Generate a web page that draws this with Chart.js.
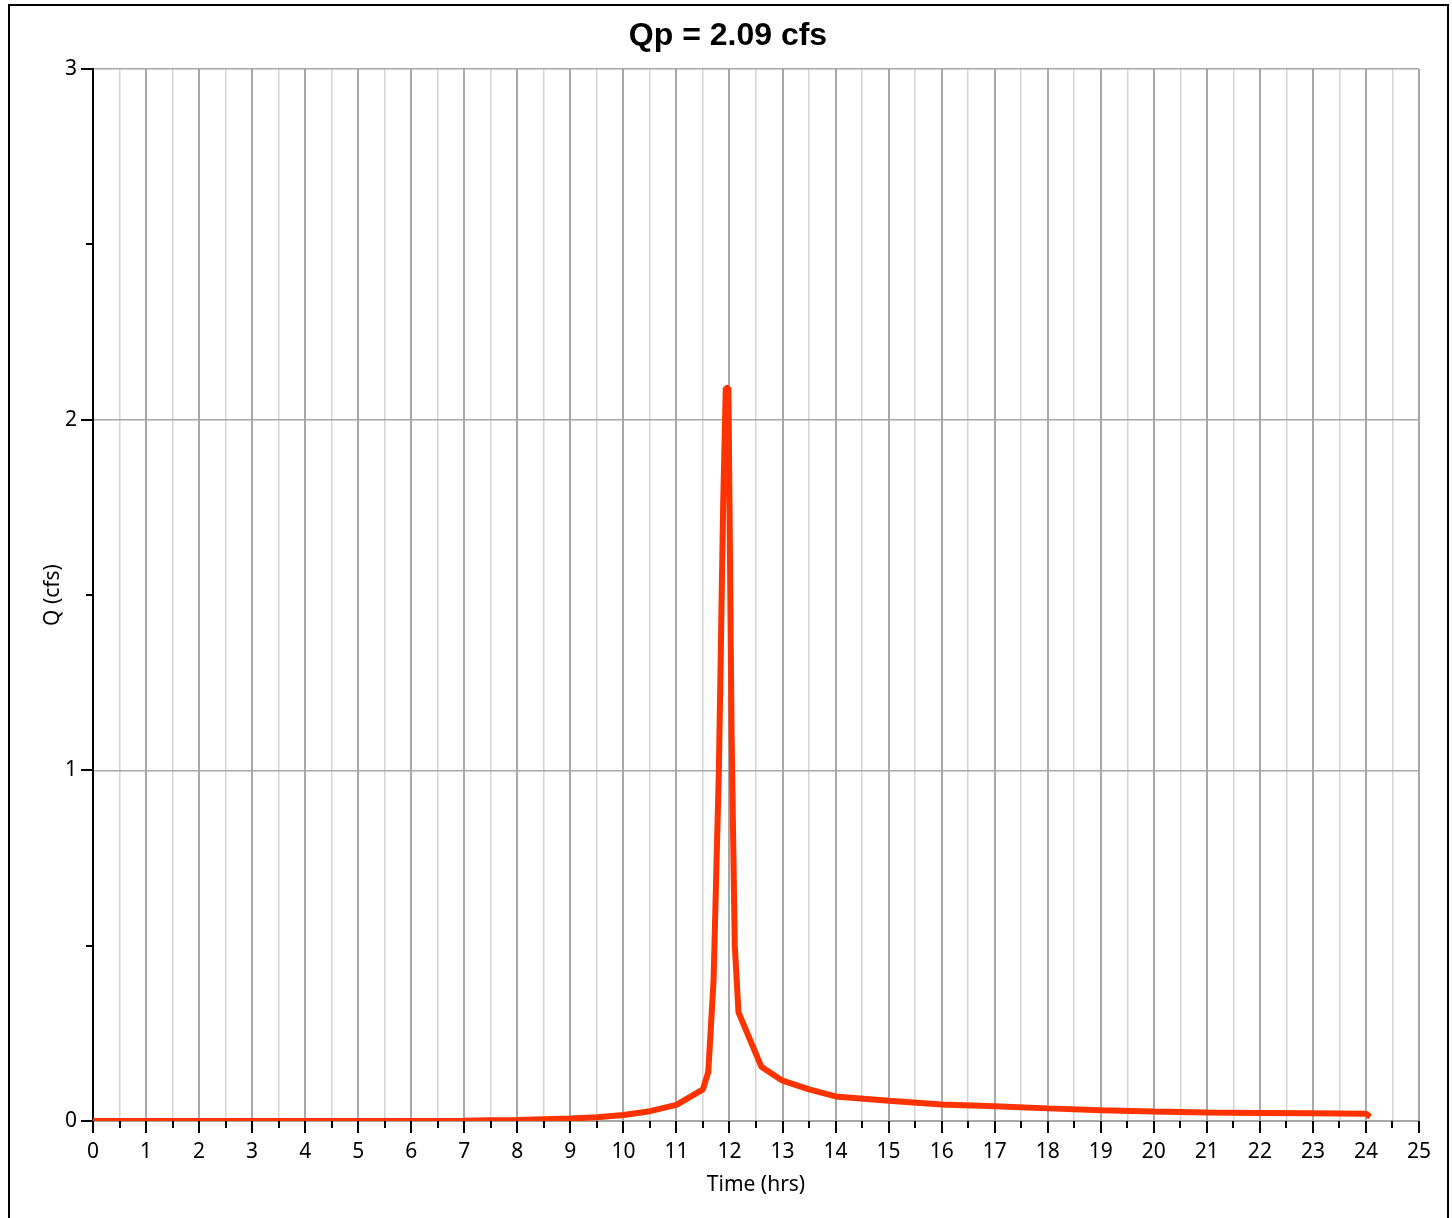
<!DOCTYPE html>
<html>
<head>
<meta charset="utf-8">
<script src="https://cdn.jsdelivr.net/npm/chart.js@4/dist/chart.umd.min.js"></script>
<style>
    html, body { margin: 0; padding: 0; background: #fff; overflow: hidden; }
    #frame { position: absolute; left: 8px; top: 4px; width: 1437px; height: 1300px; border: 2px solid #000; }
    #wrap { position: absolute; left: 0; top: 0; width: 1452px; height: 1218px; }
</style>
</head>
<body>
<div id="frame"></div>
<div id="wrap"><canvas id="hydroChart" width="1452" height="1218"></canvas></div>
<script>
// Hydrograph data (time in hrs, flow in cfs)
const times = [0, 1, 2, 3, 4, 5, 6, 7, 7.5, 8, 8.5, 9, 9.5, 10, 10.5, 11, 11.5, 11.6, 11.7, 11.8, 11.88, 11.93, 11.98, 12.04, 12.1, 12.17, 12.6, 13.0, 13.5, 14.0, 15.0, 16.0, 17.0, 18.0, 19.0, 20.0, 21.0, 22.0, 23.0, 24.0, 24.08];
const flows = [0, 0, 0, 0, 0, 0, 0, 0.001, 0.002, 0.003, 0.005, 0.007, 0.011, 0.017, 0.028, 0.046, 0.09, 0.14, 0.40, 1.0, 1.75, 2.09, 2.09, 1.1, 0.5, 0.31, 0.155, 0.115, 0.09, 0.07, 0.058, 0.047, 0.042, 0.036, 0.031, 0.027, 0.024, 0.023, 0.022, 0.021, 0.012];

const titleText = 'Qp = 2.09 cfs';
const xTitle = 'Time (hrs)';
const yTitle = 'Q (cfs)';
const xMax = 25;
const yMax = 3;

const points = times.map((t, i) => ({ x: t, y: flows[i] }));

//Black tick marks, long on whole numbers, short on halves
const tickMarks = {
    id: 'tickMarks',
    afterDraw(chart) {
        const ctx = chart.ctx;
        const xs = chart.scales.x;
        const ys = chart.scales.y;
        const area = chart.chartArea;
        ctx.save();
        ctx.strokeStyle = '#000';
        ctx.lineWidth = 2;
        ctx.beginPath();
        ys.ticks.forEach(t => {
            const len = Number.isInteger(t.value) ? 12 : 7;
            const py = Math.round(ys.getPixelForValue(t.value));
            ctx.moveTo(area.left - len, py);
            ctx.lineTo(area.left, py);
        });
        xs.ticks.forEach(t => {
            const len = Number.isInteger(t.value) ? 12 : 7;
            const px = Math.round(xs.getPixelForValue(t.value));
            ctx.moveTo(px, area.bottom);
            ctx.lineTo(px, area.bottom + len);
        });
        ctx.stroke();
        ctx.restore();
    }
};

const ctx = document.getElementById('hydroChart').getContext('2d');
new Chart(ctx, {
    type: 'line',
    data: {
        datasets: [{
            data: points,
            borderColor: '#ff3300',
            borderWidth: 6,
            borderJoinStyle: 'bevel',
            pointRadius: 0,
            tension: 0,
            fill: false
        }]
    },
    options: {
        responsive: false,
        animation: false,
        layout: { padding: { left: 37, right: 33, top: 0, bottom: 0 } },
        plugins: {
            legend: { display: false },
            tooltip: { enabled: false },
            title: {
                display: true,
                text: titleText,
                color: '#000',
                font: { family: '"Liberation Sans", Arial, sans-serif', size: 32, weight: 'bold', lineHeight: 1.2 },
                padding: { top: 17, bottom: 13.6 }
            }
        },
        scales: {
            x: {
                type: 'linear',
                min: 0,
                max: xMax,
                afterFit: s => { s.height = 97; },
                ticks: {
                    stepSize: 0.5,
                    autoSkip: false,
                    maxRotation: 0,
                    color: '#000',
                    padding: 6,
                    font: { family: '"Noto Sans", sans-serif', size: 21 },
                    callback: v => Number.isInteger(v) ? String(v) : ''
                },
                grid: {
                    color: c => Number.isInteger(c.tick.value) ? '#a8a8a8' : '#d4d4d4',
                    lineWidth: c => Number.isInteger(c.tick.value) ? 2 : 1.5,
                    tickLength: 12,
                    tickColor: 'rgba(0,0,0,0)'
                },
                border: { color: '#a8a8a8', width: 2 },
                title: {
                    display: true,
                    text: xTitle,
                    color: '#000',
                    font: { family: '"Noto Sans", sans-serif', size: 21 },
                    padding: 20
                }
            },
            y: {
                type: 'linear',
                min: 0,
                max: yMax,
                afterFit: s => { s.width = 56; },
                ticks: {
                    stepSize: 0.5,
                    autoSkip: false,
                    color: '#000',
                    padding: 4,
                    font: { family: '"Noto Sans", sans-serif', size: 21 },
                    callback: v => Number.isInteger(v) ? String(v) : ''
                },
                grid: {
                    color: c => Number.isInteger(c.tick.value) ? '#a8a8a8' : 'rgba(0,0,0,0)',
                    lineWidth: 1.5,
                    tickLength: 12,
                    tickColor: 'rgba(0,0,0,0)'
                },
                border: { color: '#000', width: 2 },
                title: {
                    display: true,
                    text: yTitle,
                    color: '#000',
                    font: { family: '"Noto Sans", sans-serif', size: 21 },
                    padding: 3
                }
            }
        }
    },
    plugins: [tickMarks]
});
</script>
</body>
</html>
